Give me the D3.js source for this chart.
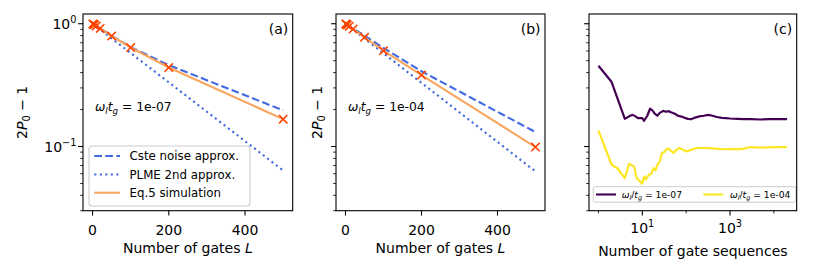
<!DOCTYPE html>
<html>
<head>
<meta charset="utf-8">
<script src="https://cdn.jsdelivr.net/npm/d3@7"></script>
<style>
  body { margin: 0; background: #fff; }
  svg { display: block; font-family: "DejaVu Sans", sans-serif; }
</style>
</head>
<body>
<svg id="fig" width="830" height="277"></svg>
<script>
// ---- data ----
const gates = [1, 2, 5, 10, 20, 50, 100, 200, 500];

// panel (a): w_l t_g = 1e-07
const csteA = [0.9956, 0.991, 0.978, 0.957, 0.916, 0.80, 0.645, 0.46, 0.197];
const plmeA = [0.9945, 0.989, 0.973, 0.947, 0.896, 0.760, 0.577, 0.333, 0.0637];
const simA  = [0.996, 0.992, 0.98, 0.96, 0.915, 0.794, 0.640, 0.44, 0.167];

// panel (b): w_l t_g = 1e-04
const csteB = [0.9955, 0.991, 0.978, 0.956, 0.914, 0.80, 0.635, 0.41, 0.131];
const plmeB = [0.9945, 0.989, 0.973, 0.947, 0.896, 0.758, 0.574, 0.330, 0.0626];
const simB  = [0.995, 0.99, 0.977, 0.955, 0.905, 0.775, 0.603, 0.382, 0.099];

// panel (c): running estimate vs number of gate sequences
const seqA = [1, 2, 4, 5, 6, 7, 8, 10, 11, 13, 15, 17, 19, 22, 25, 30, 35, 40, 45, 55, 65, 75, 90, 110, 130,
              160, 200, 250, 320, 400, 500, 650, 800, 1000, 1500, 2000, 3000, 5000, 8000, 12000, 20000];
const runA = [0.455, 0.335, 0.168, 0.176, 0.181, 0.176, 0.170, 0.170, 0.162, 0.178, 0.203, 0.197, 0.186, 0.178,
              0.188, 0.195, 0.192, 0.194, 0.190, 0.185, 0.178, 0.176, 0.172, 0.168, 0.167, 0.172, 0.176, 0.178,
              0.181, 0.178, 0.174, 0.171, 0.170, 0.169, 0.168, 0.167, 0.167, 0.166, 0.167, 0.167, 0.167];
const seqB = [1, 2, 2.7, 4, 5, 6.5, 7.5, 10, 11, 12, 14, 16, 18, 20, 22, 25, 28, 32, 36, 40, 46, 52, 60, 68, 80,
              100, 120, 150, 200, 300, 450, 700, 1000, 1800, 3000, 5000, 10000, 20000];
const runB = [0.135, 0.071, 0.0665, 0.0552, 0.0723, 0.0686, 0.0552, 0.0497, 0.0569, 0.054, 0.0587, 0.060, 0.0665,
              0.064, 0.071, 0.075, 0.0884, 0.090, 0.0958, 0.0958, 0.092, 0.0884, 0.094, 0.097, 0.095, 0.0913,
              0.093, 0.096, 0.0977, 0.097, 0.096, 0.095, 0.0953, 0.0953, 0.099, 0.098, 0.099, 0.099];

const yMajor = [0.1, 1];
const yMajorLabels = [['10', '−1'], ['10', '0']];
const yMinor = [0.03, 0.04, 0.05, 0.06, 0.07, 0.08, 0.09, 0.2, 0.3, 0.4, 0.5, 0.6, 0.7, 0.8, 0.9];
const xTicksLin = [0, 200, 400];
const xTicksLog = [10, 1000];
const xTickLogLabels = [['10', '1'], ['10', '3']];
const xMinorLog = [1, 100, 10000];

// ---- layout ----
const yTop = 14, yBot = 210.7;
const panels = [
  { id: 'a', x0: 83, x1: 292.7 },
  { id: 'b', x0: 336, x1: 545 },
  { id: 'c', x0: 589, x1: 796.7 },
];
const FS = 14, LEG = 11.8;
const blue = '#4169e1', orange = '#f8a55e', red = '#ff4500';
const purple = '#440154', yellow = '#fde725';

const svg = d3.select('#fig');
const y = d3.scaleLog().domain([0.03, 1.2]).range([yBot, yTop]);

// mathtext-ish helper: parts = [{t, it, sub, sup}]
function mtext(g, x, yy, parts, size, anchor) {
  const t = g.append('text').attr('x', x).attr('y', yy)
    .attr('font-size', size).attr('text-anchor', anchor || 'start').attr('fill', '#000');
  let off = 0;
  for (const p of parts) {
    const s = t.append('tspan').text(p.t);
    let target = 0;
    if (p.it) s.attr('font-style', 'italic');
    if (p.sub) { s.attr('font-size', size * 0.7); target = size * 0.22; }
    if (p.sup) { s.attr('font-size', size * 0.7); target = -size * 0.42; }
    if (target !== off) { s.attr('dy', target - off); off = target; }
  }
  return t;
}

function yAxis(g, p, labels) {
  g.selectAll('line.ymaj').data(yMajor).join('line').attr('class', 'ymaj')
    .attr('x1', p.x0 - 4.9).attr('x2', p.x0).attr('y1', d => y(d)).attr('y2', d => y(d))
    .attr('stroke', '#000').attr('stroke-width', 1.1);
  g.selectAll('line.ymin').data(yMinor).join('line').attr('class', 'ymin')
    .attr('x1', p.x0 - 2.8).attr('x2', p.x0).attr('y1', d => y(d)).attr('y2', d => y(d))
    .attr('stroke', '#000').attr('stroke-width', 0.83);
  if (labels) {
    yMajor.forEach((v, i) => {
      mtext(g, p.x0 - 6.5, y(v) + 5, [{ t: yMajorLabels[i][0] }, { t: yMajorLabels[i][1], sup: true }], FS, 'end');
    });
  }
}

function yLabel(g, x) {
  const t = g.append('text').attr('transform', `translate(${x},${(yTop + yBot) / 2}) rotate(-90)`)
    .attr('font-size', FS).attr('text-anchor', 'middle');
  t.append('tspan').text('2');
  t.append('tspan').text('P').attr('font-style', 'italic');
  t.append('tspan').text('0').attr('font-size', FS * 0.7).attr('dy', FS * 0.22);
  t.append('tspan').text(' − 1').attr('dy', -FS * 0.22);
}

function frame(g, p) {
  g.append('rect').attr('x', p.x0).attr('y', yTop).attr('width', p.x1 - p.x0).attr('height', yBot - yTop)
    .attr('fill', 'none').attr('stroke', '#000').attr('stroke-width', 1.1);
  g.append('text').attr('x', p.x1 - 4.5).attr('y', 34).attr('font-size', FS).attr('text-anchor', 'end')
    .text(`(${p.id})`);
}

function clip(p) {
  svg.append('clipPath').attr('id', 'clip-' + p.id).append('rect')
    .attr('x', p.x0).attr('y', yTop).attr('width', p.x1 - p.x0).attr('height', yBot - yTop);
  return `url(#clip-${p.id})`;
}

// ---- panels (a) and (b) ----
function gatePanel(p, cste, plme, sim, note, withLegend, yTickLabels, yLabX) {
  const g = svg.append('g');
  const x = d3.scaleLinear().domain([-25, 525]).range([p.x0, p.x1]);
  const line = vals => d3.line().x((d, i) => x(gates[i])).y(d => y(d))(vals);
  const pg = g.append('g').attr('clip-path', clip(p));

  pg.append('path').attr('d', line(cste)).attr('fill', 'none').attr('stroke', blue)
    .attr('stroke-width', 2.1).attr('stroke-dasharray', '7.7,3.3');
  pg.append('path').attr('d', line(plme)).attr('fill', 'none').attr('stroke', blue)
    .attr('stroke-width', 2.1).attr('stroke-dasharray', '2.1,3.4');
  pg.append('path').attr('d', line(sim)).attr('fill', 'none').attr('stroke', orange)
    .attr('stroke-width', 2.1);
  const s = 4.2;
  pg.selectAll('path.mk').data(sim).join('path').attr('class', 'mk')
    .attr('d', (d, i) => {
      const cx = x(gates[i]), cy = y(d);
      return `M${cx - s},${cy - s}L${cx + s},${cy + s}M${cx - s},${cy + s}L${cx + s},${cy - s}`;
    })
    .attr('stroke', red).attr('stroke-width', 1.6).attr('fill', 'none');

  // x axis
  g.selectAll('line.xt').data(xTicksLin).join('line').attr('class', 'xt')
    .attr('x1', d => x(d)).attr('x2', d => x(d)).attr('y1', yBot).attr('y2', yBot + 4.9)
    .attr('stroke', '#000').attr('stroke-width', 1.1);
  g.selectAll('text.xt').data(xTicksLin).join('text').attr('class', 'xt')
    .attr('x', d => x(d)).attr('y', 235).attr('font-size', FS).attr('text-anchor', 'middle')
    .text(d => d);
  mtext(g, (p.x0 + p.x1) / 2, 253.3, [{ t: 'Number of gates ' }, { t: 'L', it: true }], FS, 'middle');

  yAxis(g, p, yTickLabels);
  yLabel(g, yLabX);

  mtext(g, x(-25) + 12, 111, [
    { t: 'ω', it: true }, { t: 'l', it: true, sub: true }, { t: 't', it: true }, { t: 'g', it: true, sub: true },
    { t: ' = ' }, { t: note },
  ], 12.3);

  if (withLegend) {
    const lg = g.append('g');
    lg.append('rect').attr('x', 89).attr('y', 146).attr('width', 161).attr('height', 60).attr('rx', 3)
      .attr('fill', '#fff').attr('fill-opacity', 0.8).attr('stroke', '#ccc').attr('stroke-width', 1.1);
    const items = [
      { label: 'Cste noise approx.', color: blue, dash: '7.7,3.3' },
      { label: 'PLME 2nd approx.', color: blue, dash: '2.1,3.4' },
      { label: 'Eq.5 simulation', color: orange, dash: null },
    ];
    const rows = [156, 174.5, 192.7];
    items.forEach((it, i) => {
      lg.append('line').attr('x1', 94.3).attr('x2', 120).attr('y1', rows[i]).attr('y2', rows[i])
        .attr('stroke', it.color).attr('stroke-width', 2.1).attr('stroke-dasharray', it.dash);
      lg.append('text').attr('x', 129.5).attr('y', rows[i] + 4.2).attr('font-size', LEG).text(it.label);
    });
  }
  frame(g, p);
}

gatePanel(panels[0], csteA, plmeA, simA, '1e-07', true, true, 27);
gatePanel(panels[1], csteB, plmeB, simB, '1e-04', false, false, 321.5);

// ---- panel (c) ----
(function () {
  const p = panels[2];
  const g = svg.append('g');
  const x = d3.scaleLog().domain([Math.pow(10, -0.215), Math.pow(10, 4.52)]).range([p.x0, p.x1]);
  const pg = g.append('g').attr('clip-path', clip(p));
  const line = xs => d3.line().x((d, i) => x(xs[i])).y(d => y(d));
  pg.append('path').attr('d', line(seqA)(runA)).attr('fill', 'none').attr('stroke', purple)
    .attr('stroke-width', 2.2).attr('stroke-linejoin', 'round');
  pg.append('path').attr('d', line(seqB)(runB)).attr('fill', 'none').attr('stroke', yellow)
    .attr('stroke-width', 2.2).attr('stroke-linejoin', 'round');

  g.selectAll('line.xt').data(xTicksLog).join('line').attr('class', 'xt')
    .attr('x1', d => x(d)).attr('x2', d => x(d)).attr('y1', yBot).attr('y2', yBot + 4.9)
    .attr('stroke', '#000').attr('stroke-width', 1.1);
  g.selectAll('line.xm').data(xMinorLog).join('line').attr('class', 'xm')
    .attr('x1', d => x(d)).attr('x2', d => x(d)).attr('y1', yBot).attr('y2', yBot + 2.8)
    .attr('stroke', '#000').attr('stroke-width', 0.83);
  xTicksLog.forEach((v, i) => {
    mtext(g, x(v), 233.3, [{ t: xTickLogLabels[i][0] }, { t: xTickLogLabels[i][1], sup: true }], FS, 'middle');
  });
  g.append('text').attr('x', (p.x0 + p.x1) / 2).attr('y', 255.5).attr('font-size', FS)
    .attr('text-anchor', 'middle').text('Number of gate sequences');

  yAxis(g, p, false);

  // legend
  const lg = g.append('g');
  lg.append('rect').attr('x', 593.3).attr('y', 186.7).attr('width', 202.7).attr('height', 15.5).attr('rx', 2)
    .attr('fill', '#fff').attr('fill-opacity', 0.8).attr('stroke', '#ccc').attr('stroke-width', 1);
  const items = [
    { color: purple, note: '1e-07', lx: 596, tx: 621.7 },
    { color: yellow, note: '1e-04', lx: 703.3, tx: 730 },
  ];
  const ly = 194.5, LS = 9.2;
  items.forEach(it => {
    lg.append('line').attr('x1', it.lx).attr('x2', it.lx + 20).attr('y1', ly).attr('y2', ly)
      .attr('stroke', it.color).attr('stroke-width', 2.1);
    mtext(lg, it.tx, ly + 3, [
      { t: 'ω', it: true }, { t: 'l', it: true, sub: true }, { t: '/' }, { t: 't', it: true },
      { t: 'g', it: true, sub: true }, { t: ' =  ' + it.note },
    ], LS);
  });
  frame(g, p);
})();
</script>
</body>
</html>
